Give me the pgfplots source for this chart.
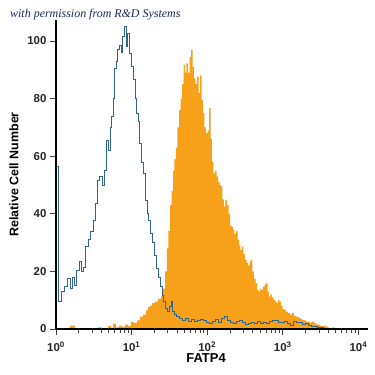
\documentclass[border=0pt]{standalone}
\usepackage{fontspec}
\setmainfont{Liberation Sans}
\newfontfamily\serifit{Liberation Serif}
\usepackage{pgfplots}
\pgfplotsset{compat=1.18}
\definecolor{histblue}{RGB}{48,100,138}
\definecolor{historange}{RGB}{247,161,27}
\definecolor{titleblue}{RGB}{30,40,85}
\begin{document}
\begin{tikzpicture}
\useasboundingbox (-56bp,-46bp) rectangle (319bp,329bp);
\begin{axis}[
  at={(0,0)}, anchor=south west,
  scale only axis, width=312bp, height=309bp,
  xmin=0, xmax=4.127, ymin=0, ymax=107.3,
  axis lines=left, axis line style={-, line width=1.1bp, black},
  axis on top=true,
  tick align=outside,
  major tick length=6bp, minor tick length=3.5bp,
  every tick/.style={black!75, line width=0.7bp},
  xtick={0,1,2,3,4},
  xticklabels={10\textsuperscript{0},10\textsuperscript{1},10\textsuperscript{2},10\textsuperscript{3},10\textsuperscript{4}},
  minor xtick={0.301,0.477,0.602,0.699,0.778,0.845,0.903,0.954,
               1.301,1.477,1.602,1.699,1.778,1.845,1.903,1.954,
               2.301,2.477,2.602,2.699,2.778,2.845,2.903,2.954,
               3.301,3.477,3.602,3.699,3.778,3.845,3.903,3.954},
  ytick={0,20,40,60,80,100},
  /pgf/number format/assume math mode=true,
  tick label style={font=\bfseries\fontsize{11.5}{12}\selectfont, text=black!85},
  xticklabel style={yshift=-3bp},
  xlabel={FATP4}, ylabel={Relative Cell Number},
  xlabel style={font=\bfseries\fontsize{13}{14}\selectfont, at={(axis description cs:0.481,-0.095)}, anchor=center},
  ylabel style={font=\bfseries\fontsize{12.5}{14}\selectfont, at={(axis description cs:-0.135,0.5)}, anchor=center, rotate=0},
]
\addplot[const plot, fill=historange, draw=none] coordinates {
(0,0) (0.185,1.2) (0.251,0) (0.556,0.6) (0.608,0) (0.688,1) (0.728,0.5) (0.754,1.8) (0.794,0.6)
(0.833,1.2) (0.873,0.8) (0.913,1.5) (0.952,1) (0.992,2.5) (1.032,2) (1.071,3) (1.111,4.3)
(1.151,5) (1.190,6.5) (1.217,7.7) (1.243,8) (1.270,9) (1.310,9.5) (1.349,10.5) (1.389,11.5)
(1.415,14) (1.442,20) (1.468,28) (1.488,34) (1.508,43) (1.528,48) (1.548,55) (1.567,59)
(1.587,63) (1.607,70) (1.627,76) (1.647,80) (1.667,85) (1.687,91.7) (1.706,89) (1.726,92.2)
(1.746,89) (1.766,94.5) (1.786,97) (1.806,91) (1.825,87) (1.845,85) (1.865,87.6) (1.885,82)
(1.905,88) (1.925,79.5) (1.944,75) (1.964,70) (1.984,68) (2.004,69) (2.024,76.7) (2.044,66)
(2.063,58) (2.083,54) (2.103,55) (2.123,53) (2.143,51) (2.163,50) (2.183,49.5) (2.202,45)
(2.222,42.5) (2.242,44.8) (2.262,43) (2.282,40) (2.302,36) (2.321,35.5) (2.341,34.4) (2.361,33)
(2.381,34) (2.401,31) (2.421,29) (2.440,27.5) (2.460,28.6) (2.480,26) (2.500,24) (2.520,23)
(2.540,22) (2.560,23.5) (2.579,24) (2.599,20) (2.619,17.5) (2.639,16) (2.659,13.5) (2.679,13)
(2.698,14) (2.718,13.5) (2.738,14.7) (2.758,15.5) (2.778,15.8) (2.798,13) (2.817,11.2) (2.837,12)
(2.857,11) (2.877,10) (2.897,9.5) (2.917,9) (2.937,10) (2.956,9.5) (2.976,8) (2.996,7)
(3.016,6.6) (3.042,6) (3.069,5.5) (3.095,5) (3.122,5.5) (3.148,4.5) (3.175,4.3) (3.201,4)
(3.228,3.5) (3.254,3.1) (3.280,3) (3.307,2.6) (3.333,2.4) (3.360,2.2) (3.386,2.6) (3.413,2)
(3.439,1.6) (3.466,1.5) (3.492,1.2) (3.519,1) (3.545,1.2) (3.571,0.8) (3.598,0.5) (3.624,0.3)
(3.651,0.6) (3.677,0.2) (3.704,0.4) (3.730,0) (3.757,0)
} \closedcycle;
\addplot[const plot, draw=histblue, line width=0.9bp] coordinates {
(0,0) (0,56.5) (0.033,9.5) (0.066,13) (0.106,14.7) (0.146,17.7) (0.185,14) (0.212,18) (0.245,15)
(0.271,20.5) (0.304,23.4) (0.331,20) (0.357,21.5) (0.390,28.6) (0.423,31) (0.456,33.8) (0.489,37.8)
(0.522,43.7) (0.549,51.7) (0.575,52.9) (0.608,50) (0.635,55) (0.661,65.6) (0.694,62) (0.714,70)
(0.734,73.7) (0.754,80) (0.774,90.6) (0.794,92.8) (0.813,97) (0.840,98.6) (0.860,96) (0.880,101.5)
(0.899,105) (0.926,98) (0.946,102.7) (0.972,95.7) (0.999,91) (1.019,86.5) (1.045,80) (1.065,75)
(1.085,72) (1.104,64.6) (1.131,58) (1.151,54) (1.177,44.8) (1.204,40) (1.224,37.8) (1.250,33.3)
(1.276,30) (1.296,25.5) (1.329,21) (1.356,18) (1.382,14.7) (1.402,11.5) (1.422,9.5) (1.448,7.2)
(1.475,6) (1.501,8) (1.521,9.5) (1.541,6) (1.567,5) (1.594,4.3) (1.627,3.5) (1.667,3)
(1.706,3.8) (1.746,2.6) (1.786,3.3) (1.825,2.5) (1.865,3.1) (1.905,3.4) (1.944,3.1) (1.984,2.4)
(2.024,2.0) (2.063,2.6) (2.103,3.3) (2.143,2.4) (2.183,3.8) (2.222,4.3) (2.262,2.8) (2.302,2.2)
(2.341,2.0) (2.381,2.6) (2.421,3.0) (2.460,2.4) (2.500,1.6) (2.540,1.8) (2.579,2.2) (2.619,2.0)
(2.659,2.5) (2.698,2.0) (2.738,2.4) (2.778,2.0) (2.817,2.5) (2.857,3.0) (2.897,2.8) (2.937,2.4)
(2.976,2.2) (3.016,2.6) (3.056,1.8) (3.095,1.2) (3.135,2.5) (3.175,2.2) (3.214,2.4) (3.254,1.5)
(3.294,1.8) (3.333,1.2) (3.373,1.0) (3.413,0.8) (3.452,0.5) (3.492,0.6) (3.532,0.2) (3.571,0)
(4.0,0)
};
\end{axis}
\node[anchor=base west, font=\serifit\itshape\fontsize{12}{14}\selectfont, text=titleblue, inner sep=0pt] at (-46bp,311bp) {with permission from R\&D Systems};
\end{tikzpicture}
\end{document}
